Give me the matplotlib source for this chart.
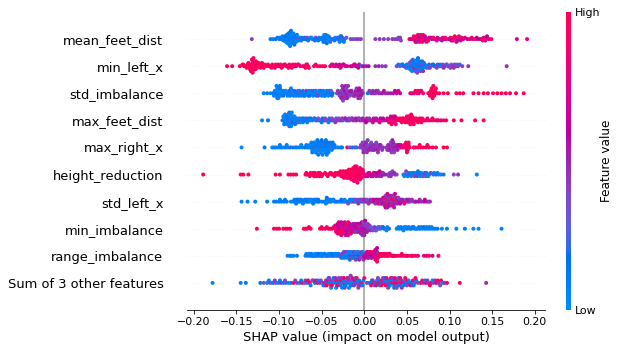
import numpy as np
import matplotlib
matplotlib.use("Agg")
import matplotlib.pyplot as plt
from matplotlib.colors import LinearSegmentedColormap
from matplotlib.cm import ScalarMappable

# ---------------- data: (SHAP value, normalised feature value) ----------------
features = ["mean_feet_dist", "min_left_x", "std_imbalance", "max_feet_dist", "max_right_x",
            "height_reduction", "std_left_x", "min_imbalance", "range_imbalance",
            "Sum of 3 other features"]

mean_feet_dist = [
    (-0.132,.40),
    (-0.110,.10),(-0.107,.05),(-0.104,.15),(-0.102,.10),(-0.100,.30),(-0.098,.05),(-0.097,.10),(-0.095,.20),
    (-0.094,.05),(-0.093,.10),(-0.092,.15),(-0.091,.05),(-0.090,.10),(-0.090,.25),(-0.089,.05),(-0.089,.10),
    (-0.088,.05),(-0.088,.15),(-0.088,.10),(-0.087,.05),(-0.087,.20),(-0.086,.10),(-0.086,.05),(-0.085,.30),
    (-0.085,.10),(-0.084,.05),(-0.083,.15),(-0.082,.10),(-0.081,.05),(-0.080,.20),(-0.079,.10),(-0.078,.35),
    (-0.076,.10),(-0.075,.05),
    (-0.073,.10),(-0.071,.30),(-0.069,.15),(-0.067,.35),(-0.065,.10),(-0.063,.20),(-0.061,.30),(-0.059,.10),
    (-0.057,.40),(-0.055,.15),(-0.053,.20),(-0.051,.10),
    (-0.049,.10),(-0.048,.05),(-0.047,.15),(-0.047,.10),(-0.046,.05),(-0.046,.20),(-0.045,.10),(-0.044,.30),
    (-0.043,.10),(-0.041,.05),
    (-0.038,.10),(-0.036,.20),(-0.034,.05),(-0.032,.30),(-0.030,.10),(-0.029,.15),(-0.028,.05),(-0.028,.25),
    (-0.027,.10),(-0.026,.35),(-0.025,.10),(-0.023,.20),(-0.021,.30),
    (-0.016,.40),(-0.013,.35),(-0.010,.40),(-0.007,.45),(-0.004,.40),
    (0.013,.40),(0.018,.45),(0.023,.40),(0.028,.40),(0.033,.45),
    (0.036,.40),(0.039,.45),(0.040,.40),(0.041,.35),(0.042,.45),(0.043,.40),
    (0.053,.95),(0.055,.70),(0.057,1.0),(0.059,.50),(0.060,.90),(0.061,.75),(0.062,.95),(0.063,.45),
    (0.064,.85),(0.065,1.0),(0.066,.60),(0.067,.90),(0.068,.70),(0.069,.50),(0.070,.95),(0.071,.80),
    (0.072,.60),(0.074,.90),(0.076,.70),
    (0.079,.50),(0.082,.85),(0.084,.95),(0.086,.60),(0.088,.75),(0.090,.50),(0.092,.90),(0.094,.65),(0.096,.80),
    (0.099,.55),(0.101,.90),(0.103,.70),(0.105,.95),(0.106,.60),(0.107,.80),(0.108,.50),(0.109,.90),
    (0.110,.70),(0.112,.55),(0.114,.85),(0.116,.65),(0.118,.75),
    (0.121,.60),(0.124,.80),(0.127,.55),(0.130,.90),(0.133,.70),(0.136,.60),(0.138,.85),(0.140,.65),
    (0.141,.75),(0.143,.95),(0.146,.80),(0.149,.90),
    (0.179,.75),(0.191,.80),
    (-0.099,.10),(-0.096,.05),(-0.093,.15),(-0.092,.05),(-0.091,.10),(-0.090,.05),(-0.089,.15),(-0.088,.10),
    (-0.088,.05),(-0.087,.10),(-0.087,.05),(-0.086,.15),(-0.085,.05),(-0.084,.10),(-0.083,.05),(-0.082,.20),
    (-0.081,.10),(-0.080,.05),(-0.079,.15),(-0.077,.05),(-0.074,.10),(-0.070,.20),(-0.066,.10),(-0.062,.05),
    (-0.058,.15),(-0.054,.10),(-0.050,.05),(-0.048,.15),(-0.047,.05),(-0.046,.10),(-0.045,.05),(-0.044,.15),
    (-0.043,.05),(-0.042,.10),(-0.040,.20),(-0.035,.10),(-0.031,.20),(-0.029,.05),(-0.027,.15),(-0.024,.10),
    (0.058,.90),(0.060,.70),(0.061,1.0),(0.062,.55),(0.063,.90),(0.064,.65),(0.065,.80),(0.066,.95),
    (0.067,.50),(0.068,.85),(0.069,1.0),(0.071,.60),(0.073,.85),(0.075,.95),(0.078,.65),(0.081,.90),
    (0.085,.70),(0.091,.55),(0.095,.90),(0.102,.65),(0.104,.85),(0.106,.95),(0.108,.70),(0.110,.55),
    (0.111,.90),(0.113,.75),(0.126,.85),(0.132,.60),(0.139,.95),(0.142,.70),(0.144,.60),
]

min_left_x = [
    (-0.161,.95),(-0.155,1.0),
    (-0.146,.95),(-0.143,1.0),(-0.141,.90),(-0.139,1.0),(-0.137,.95),(-0.136,.85),(-0.135,1.0),(-0.134,.95),
    (-0.133,.90),(-0.132,1.0),(-0.131,.95),(-0.131,.85),(-0.130,1.0),(-0.130,.90),(-0.129,.95),(-0.128,1.0),
    (-0.127,.80),(-0.126,.95),(-0.125,1.0),(-0.123,.90),(-0.121,.95),(-0.119,.85),(-0.117,1.0),(-0.115,.90),
    (-0.112,.95),(-0.110,.85),(-0.108,1.0),(-0.106,.90),(-0.104,.95),(-0.102,.80),(-0.100,1.0),(-0.098,.90),
    (-0.096,.75),(-0.094,.95),(-0.092,.85),(-0.090,1.0),(-0.088,.90),(-0.086,.80),(-0.084,.95),(-0.082,.85),
    (-0.080,.70),(-0.078,.95),(-0.075,.80),(-0.072,.90),(-0.070,.75),(-0.068,.95),(-0.066,.85),
    (-0.059,.95),(-0.055,.90),(-0.052,1.0),(-0.049,.85),(-0.046,.95),
    (-0.040,.75),(-0.038,.70),(-0.036,.80),(-0.034,.65),(-0.031,.75),(-0.029,.70),(-0.027,.80),(-0.025,.65),
    (-0.022,.75),(-0.020,.70),
    (-0.016,.75),(-0.014,.65),(-0.012,.80),(-0.010,.60),(-0.008,.70),(-0.006,.55),(-0.003,.05),(-0.001,.65),
    (0.002,.50),(0.005,.60),
    (0.013,.45),(0.017,.50),(0.021,.40),(0.025,.45),
    (0.038,.40),(0.040,.10),(0.042,.35),(0.044,.05),(0.046,.40),(0.048,.15),(0.050,.10),(0.052,.35),
    (0.053,.05),(0.054,.20),(0.055,.10),(0.056,.40),(0.057,.05),(0.058,.15),(0.059,.30),(0.060,.10),
    (0.061,.05),(0.061,.40),(0.062,.10),(0.062,.20),(0.063,.05),(0.063,.35),(0.064,.10),(0.065,.45),
    (0.066,.05),(0.067,.15),(0.068,.40),(0.069,.10),(0.070,.30),(0.072,.05),(0.074,.40),(0.076,.15),
    (0.078,.35),(0.080,.10),(0.082,.40),(0.084,.20),(0.086,.45),(0.088,.10),(0.090,.35),(0.092,.40),
    (0.094,.15),(0.096,.45),(0.098,.30),(0.100,.40),(0.102,.35),(0.104,.45),(0.106,.40),(0.108,.30),
    (0.110,.45),(0.112,.10),(0.115,.40),
    (0.122,.45),(0.167,.45),
    (-0.142,.95),(-0.138,1.0),(-0.136,.95),(-0.134,1.0),(-0.133,.85),(-0.132,.95),(-0.131,1.0),(-0.130,.95),
    (-0.129,.90),(-0.128,.95),(-0.127,1.0),(-0.126,.90),(-0.124,.95),(-0.122,1.0),(-0.120,.85),(-0.118,.95),
    (-0.113,1.0),(-0.109,.90),(-0.105,.95),(-0.101,.85),(-0.097,1.0),(-0.093,.80),(-0.089,.95),(-0.085,.90),
    (-0.081,1.0),(-0.077,.85),(-0.069,.95),(-0.067,.90),(-0.065,1.0),(-0.057,.85),(-0.037,.75),(-0.033,.70),
    (-0.028,.75),(-0.024,.65),(-0.011,.70),(-0.007,.60),
    (0.045,.10),(0.049,.40),(0.051,.05),(0.053,.30),(0.054,.10),(0.055,.40),(0.056,.05),(0.057,.20),
    (0.058,.10),(0.059,.45),(0.060,.05),(0.060,.35),(0.061,.10),(0.062,.05),(0.062,.40),(0.063,.15),
    (0.064,.05),(0.064,.35),(0.065,.10),(0.066,.40),(0.067,.05),(0.068,.20),(0.069,.45),(0.071,.10),
    (0.073,.35),(0.075,.05),(0.077,.40),(0.081,.15),(0.085,.40),(0.089,.10),(0.093,.45),(0.097,.35),
    (0.101,.40),(0.105,.45),(0.109,.35),
]

std_imbalance = [
    (-0.118,.05),(-0.114,.10),(-0.110,.05),(-0.107,.10),(-0.105,.05),(-0.104,.15),(-0.104,.05),(-0.103,.10),
    (-0.102,.05),(-0.102,.20),(-0.101,.10),(-0.100,.05),(-0.100,.10),(-0.099,.15),(-0.097,.05),(-0.096,.10),
    (-0.094,.05),(-0.093,.20),(-0.091,.10),(-0.089,.05),(-0.088,.15),(-0.087,.10),(-0.085,.05),(-0.084,.30),
    (-0.083,.10),(-0.081,.05),(-0.079,.15),(-0.078,.35),(-0.077,.10),(-0.075,.05),(-0.073,.40),(-0.072,.10),
    (-0.071,.35),(-0.069,.05),(-0.068,.45),(-0.067,.10),(-0.065,.05),(-0.063,.15),(-0.062,.10),(-0.061,.05),
    (-0.059,.20),(-0.058,.10),(-0.057,.05),(-0.055,.30),(-0.053,.10),(-0.052,.05),(-0.051,.15),(-0.049,.05),
    (-0.048,.10),(-0.047,.40),(-0.045,.05),(-0.044,.10),(-0.043,.20),(-0.041,.05),(-0.040,.10),(-0.039,.35),
    (-0.037,.15),
    (-0.032,.40),(-0.030,.45),(-0.028,.50),(-0.027,.40),(-0.026,.55),(-0.025,.45),(-0.024,.40),(-0.023,.60),
    (-0.022,.45),(-0.021,.50),(-0.020,.40),(-0.019,.55),(-0.018,.45),(-0.016,.60),(-0.014,.50),(-0.012,.40),
    (-0.010,.55),(-0.009,.45),(-0.008,.65),(-0.007,.50),(-0.006,.45),(-0.005,.55),(-0.004,.60),(-0.002,.50),
    (0.004,.10),(0.008,.45),(0.011,.50),(0.013,.45),(0.014,.55),(0.017,.50),(0.019,.45),(0.021,.55),(0.025,.50),
    (0.034,.55),(0.038,.60),(0.042,.65),
    (0.054,.70),(0.058,.80),(0.060,.95),(0.062,.75),(0.064,.90),(0.066,.85),(0.069,.95),
    (0.076,.95),(0.078,1.0),(0.079,.90),(0.080,.95),(0.081,1.0),(0.082,.85),(0.083,.95),(0.085,1.0),
    (0.093,.95),(0.108,1.0),(0.116,.90),(0.128,.95),(0.140,1.0),(0.151,.90),(0.161,1.0),(0.171,.95),(0.187,1.0),
    (-0.106,.05),(-0.103,.10),(-0.101,.05),(-0.099,.10),(-0.098,.05),(-0.095,.15),(-0.092,.05),(-0.090,.10),
    (-0.086,.05),(-0.082,.10),(-0.080,.05),(-0.076,.20),(-0.074,.05),(-0.070,.10),(-0.066,.05),(-0.064,.15),
    (-0.060,.05),(-0.056,.10),(-0.054,.40),(-0.050,.05),(-0.046,.10),(-0.042,.05),(-0.038,.15),
    (-0.031,.45),(-0.029,.40),(-0.027,.55),(-0.026,.45),(-0.025,.40),(-0.024,.50),(-0.023,.45),(-0.022,.55),
    (-0.021,.40),(-0.020,.50),(-0.019,.45),(-0.017,.40),(-0.015,.55),(-0.013,.45),(-0.011,.50),(-0.009,.40),
    (-0.007,.55),(-0.006,.60),(-0.005,.45),(-0.003,.50),
    (0.006,.45),(0.010,.50),(0.016,.45),(0.023,.55),(0.028,.50),(0.031,.55),(0.036,.60),(0.040,.70),
    (0.056,.85),(0.063,.95),(0.067,.80),(0.075,1.0),(0.077,.90),(0.079,1.0),(0.080,.85),(0.081,.95),
    (0.082,1.0),(0.084,.90),(0.088,.95),(0.098,1.0),(0.112,.95),(0.134,1.0),(0.145,.95),(0.156,1.0),
    (0.166,.90),(0.178,1.0),
]

max_feet_dist = [
    (-0.120,.05),(-0.113,.10),
    (-0.096,.05),(-0.095,.10),(-0.094,.05),(-0.093,.15),(-0.092,.10),(-0.091,.05),(-0.090,.20),(-0.089,.10),
    (-0.089,.05),(-0.088,.15),(-0.087,.05),(-0.087,.10),(-0.086,.30),(-0.085,.05),(-0.085,.10),(-0.084,.20),
    (-0.083,.05),(-0.082,.10),(-0.081,.35),(-0.080,.05),(-0.078,.10),(-0.077,.15),(-0.076,.05),(-0.074,.30),
    (-0.073,.10),(-0.072,.05),(-0.070,.20),(-0.069,.10),(-0.068,.40),(-0.066,.05),(-0.065,.15),(-0.064,.10),
    (-0.061,.05),
    (-0.059,.30),(-0.057,.10),(-0.055,.40),(-0.053,.05),(-0.051,.35),(-0.049,.15),(-0.047,.45),(-0.045,.10),
    (-0.043,.40),(-0.041,.20),(-0.039,.45),(-0.037,.10),(-0.035,.40),(-0.033,.35),
    (-0.031,.45),(-0.029,.40),(-0.027,.50),(-0.025,.35),(-0.023,.45),(-0.021,.10),(-0.019,.50),(-0.017,.40),
    (-0.015,.45),(-0.013,.55),(-0.011,.40),(-0.009,.50),(-0.007,.45),(-0.005,.60),(-0.003,.40),(-0.001,.55),
    (0.001,.70),(0.003,.50),(0.005,.75),(0.007,.45),(0.009,.80),(0.011,.55),(0.013,.70),(0.015,.50),
    (0.017,.85),(0.019,.60),(0.021,.75),(0.023,.50),
    (0.026,.80),(0.028,.70),(0.030,.85),(0.031,.60),(0.032,.75),(0.033,.90),(0.034,.65),(0.035,.80),
    (0.036,.70),(0.038,.85),
    (0.041,.95),(0.043,.90),(0.045,1.0),(0.047,.85),(0.049,.95),(0.050,1.0),(0.051,.90),(0.052,.95),
    (0.053,.80),(0.054,1.0),(0.055,.90),(0.056,.95),(0.057,1.0),(0.058,.85),(0.060,.95),(0.062,1.0),
    (0.064,.90),(0.066,.95),(0.068,.85),
    (0.072,.90),(0.075,1.0),(0.078,.80),(0.081,.95),(0.084,.75),(0.087,.90),(0.090,.70),(0.093,.95),(0.096,.85),
    (0.105,1.0),(0.114,.95),(0.130,1.0),(0.140,.95),
    (-0.095,.05),(-0.094,.10),(-0.093,.05),(-0.092,.05),(-0.091,.15),(-0.090,.05),(-0.089,.10),(-0.088,.05),
    (-0.088,.20),(-0.087,.05),(-0.086,.10),(-0.085,.05),(-0.084,.15),(-0.083,.10),(-0.082,.05),(-0.081,.10),
    (-0.079,.05),(-0.078,.25),(-0.075,.05),(-0.071,.10),(-0.067,.05),(-0.063,.15),(-0.058,.10),(-0.054,.35),
    (-0.050,.10),(-0.046,.40),(-0.042,.05),(-0.038,.40),(-0.034,.45),
    (-0.030,.40),(-0.026,.45),(-0.022,.50),(-0.018,.40),(-0.014,.45),(-0.010,.55),(-0.006,.40),(-0.002,.50),
    (0.002,.60),(0.006,.45),(0.010,.70),(0.014,.55),(0.018,.75),(0.022,.60),
    (0.027,.75),(0.029,.85),(0.031,.70),(0.032,.95),(0.033,.80),(0.034,.75),(0.035,.90),(0.036,.65),
    (0.037,.85),(0.039,.95),
    (0.042,1.0),(0.044,.90),(0.046,.95),(0.048,1.0),(0.050,.85),(0.051,.95),(0.052,1.0),(0.053,.90),
    (0.054,.95),(0.055,1.0),(0.056,.85),(0.058,.95),(0.059,1.0),(0.061,.90),(0.063,.95),(0.065,1.0),
    (0.067,.90),(0.070,.95),(0.074,.85),(0.080,1.0),(0.086,.90),
]

max_right_x = [
    (-0.144,.05),(-0.117,.10),
    (-0.108,.05),(-0.104,.10),(-0.101,.05),(-0.098,.15),(-0.096,.05),(-0.093,.10),(-0.090,.05),(-0.087,.20),
    (-0.084,.10),
    (-0.079,.05),(-0.076,.10),(-0.073,.05),(-0.070,.15),(-0.067,.10),(-0.065,.05),(-0.063,.10),(-0.062,.20),
    (-0.061,.05),(-0.060,.10),(-0.059,.05),(-0.058,.15),(-0.058,.10),(-0.057,.05),(-0.056,.30),(-0.055,.10),
    (-0.054,.05),(-0.054,.15),(-0.053,.10),(-0.052,.05),(-0.051,.20),(-0.050,.10),(-0.050,.05),(-0.049,.35),
    (-0.048,.10),(-0.047,.05),(-0.046,.15),(-0.046,.10),(-0.045,.05),(-0.044,.25),(-0.043,.10),(-0.042,.05),
    (-0.042,.15),(-0.041,.10),(-0.040,.05),(-0.039,.30),(-0.038,.10),(-0.036,.05),(-0.034,.20),
    (-0.028,.15),(-0.026,.10),(-0.020,.95),(-0.017,.30),(-0.014,.15),(-0.011,.40),(-0.009,.10),
    (-0.005,.45),(-0.003,.40),(-0.002,.50),(-0.001,.45),(0.000,.40),(0.001,.55),(0.002,.45),(0.003,.40),
    (0.004,.50),(0.005,.45),(0.006,.35),(0.007,.50),(0.008,.45),(0.009,.40),(0.010,.55),(0.011,.45),
    (0.012,.40),(0.013,.50),(0.014,.45),(0.015,.40),(0.016,.55),(0.017,.45),(0.018,.50),(0.020,.40),(0.022,.45),
    (0.026,.45),(0.028,.50),(0.029,.40),(0.030,.55),(0.031,.45),(0.032,.50),(0.033,.40),(0.034,.55),
    (0.034,.45),(0.035,.50),(0.036,.60),(0.037,.45),(0.038,.55),(0.040,.65),(0.042,.50),(0.044,.70),
    (0.046,.95),(0.048,.85),(0.049,1.0),(0.050,.90),(0.051,.95),(0.052,.80),(0.053,1.0),
    (0.060,.95),(0.063,.90),(0.066,1.0),(0.069,.85),(0.072,.95),(0.076,1.0),(0.080,.90),(0.084,.95),
    (0.093,1.0),(0.097,.95),
    (-0.106,.05),(-0.099,.10),(-0.091,.05),(-0.081,.10),(-0.074,.05),(-0.068,.10),(-0.064,.05),(-0.062,.10),
    (-0.061,.15),(-0.060,.05),(-0.059,.10),(-0.058,.05),(-0.057,.10),(-0.056,.05),(-0.055,.15),(-0.054,.10),
    (-0.053,.05),(-0.052,.10),(-0.051,.05),(-0.050,.15),(-0.049,.05),(-0.048,.10),(-0.047,.20),(-0.046,.05),
    (-0.045,.10),(-0.044,.05),(-0.043,.15),(-0.042,.10),(-0.041,.05),(-0.040,.10),(-0.038,.05),(-0.037,.15),
    (-0.035,.10),(-0.031,.05),
    (-0.004,.45),(-0.002,.40),(-0.001,.50),(0.000,.45),(0.001,.40),(0.002,.50),(0.003,.45),(0.004,.40),
    (0.006,.50),(0.008,.40),(0.010,.45),(0.012,.50),(0.014,.40),(0.016,.45),(0.019,.50),(0.021,.45),
    (0.027,.45),(0.029,.55),(0.031,.40),(0.032,.45),(0.033,.55),(0.034,.50),(0.035,.40),(0.036,.45),
    (0.039,.55),(0.041,.60),(0.043,.70),
    (0.047,.90),(0.049,.95),(0.050,1.0),(0.051,.85),(0.052,.95),(0.058,.90),(0.065,1.0),(0.074,.95),
]

height_reduction = [
    (-0.189,1.0),
    (-0.145,.95),(-0.142,1.0),(-0.136,.95),
    (-0.104,1.0),(-0.099,.95),
    (-0.089,1.0),(-0.086,.95),(-0.083,.90),(-0.080,1.0),
    (-0.069,.95),(-0.067,1.0),(-0.065,.90),(-0.063,.95),(-0.061,1.0),(-0.060,.85),(-0.059,.95),(-0.057,1.0),
    (-0.055,.90),(-0.054,.95),(-0.053,1.0),(-0.051,.85),(-0.049,.95),
    (-0.044,1.0),(-0.042,.90),(-0.040,.95),(-0.038,.80),(-0.036,1.0),(-0.034,.90),(-0.032,.75),(-0.030,.95),
    (-0.029,1.0),(-0.027,.90),(-0.025,.95),(-0.024,1.0),(-0.023,.85),(-0.022,.95),(-0.021,1.0),(-0.020,.90),
    (-0.019,.75),(-0.018,.95),(-0.017,1.0),(-0.016,.90),(-0.016,.80),(-0.015,.95),(-0.014,1.0),(-0.013,.90),
    (-0.012,.95),(-0.012,1.0),(-0.011,.85),(-0.011,.95),(-0.010,1.0),(-0.010,.90),(-0.009,.75),(-0.009,.95),
    (-0.008,1.0),(-0.008,.85),(-0.007,.95),(-0.006,.90),(-0.005,1.0),(-0.004,.80),(-0.004,.95),(-0.003,.70),
    (-0.002,.90),(-0.001,.95),
    (0.003,.70),(0.005,.60),(0.007,.75),(0.009,.55),(0.011,.65),(0.012,.50),(0.013,.70),(0.015,.55),
    (0.016,.60),(0.017,.45),(0.019,.65),(0.021,.50),(0.023,.55),
    (0.028,.45),(0.030,.40),(0.032,.50),(0.034,.35),(0.036,.45),(0.038,.40),
    (0.046,.10),(0.048,.40),(0.050,.05),(0.052,.35),(0.053,.10),(0.054,.45),(0.056,.05),(0.057,.30),
    (0.058,.10),(0.060,.40),(0.061,.05),(0.062,.15),(0.064,.40),(0.065,.10),(0.066,.05),(0.068,.35),
    (0.070,.10),(0.071,.45),(0.072,.05),(0.074,.30),(0.076,.10),
    (0.081,.05),(0.084,.10),(0.087,.35),(0.090,.05),(0.093,.10),
    (0.105,.40),(0.110,.45),(0.132,.05),
    (-0.068,.95),(-0.064,1.0),(-0.058,.90),(-0.056,.95),(-0.052,1.0),(-0.050,.90),(-0.046,.95),(-0.043,1.0),
    (-0.039,.90),(-0.035,.95),(-0.031,1.0),
    (-0.028,.95),(-0.026,1.0),(-0.025,.90),(-0.024,.95),(-0.022,.85),(-0.021,.95),(-0.020,1.0),(-0.019,.90),
    (-0.018,1.0),(-0.017,.85),(-0.016,.95),(-0.015,1.0),(-0.014,.90),(-0.013,.95),(-0.012,.85),(-0.011,1.0),
    (-0.010,.95),(-0.010,.80),(-0.009,1.0),(-0.009,.90),(-0.008,.95),(-0.007,1.0),(-0.007,.85),(-0.006,.95),
    (-0.005,.90),(-0.005,.75),(-0.003,.95),(-0.002,1.0),(-0.001,.85),
    (0.001,.75),(0.004,.65),(0.006,.70),(0.008,.60),(0.010,.75),(0.014,.55),(0.018,.60),(0.020,.50),
    (0.022,.45),(0.025,.50),(0.029,.40),(0.031,.45),(0.033,.40),(0.035,.50),
    (0.047,.05),(0.049,.35),(0.051,.10),(0.055,.05),(0.059,.40),(0.063,.10),(0.067,.05),(0.069,.35),
    (0.073,.10),(0.075,.05),(0.078,.40),(0.082,.10),(0.086,.05),
]

std_left_x = [
    (-0.144,.05),(-0.137,.10),(-0.128,.05),(-0.114,.10),
    (-0.106,.05),(-0.103,.10),(-0.100,.05),(-0.097,.15),(-0.094,.05),(-0.091,.10),
    (-0.083,.05),(-0.081,.10),(-0.079,.05),(-0.077,.15),(-0.075,.05),(-0.073,.10),(-0.071,.05),(-0.070,.20),
    (-0.069,.05),(-0.067,.10),(-0.066,.05),(-0.065,.15),(-0.063,.05),(-0.062,.10),(-0.061,.05),(-0.059,.20),
    (-0.058,.05),(-0.057,.10),(-0.055,.05),(-0.053,.15),
    (-0.045,.05),(-0.044,.10),(-0.043,.05),(-0.041,.15),(-0.039,.05),(-0.037,.10),(-0.035,.05),(-0.033,.20),
    (-0.028,.05),(-0.026,.10),(-0.024,.30),(-0.022,.05),(-0.020,.15),(-0.018,.40),(-0.017,.10),(-0.016,.05),
    (-0.014,.35),(-0.013,.10),(-0.012,.45),(-0.010,.05),(-0.009,.40),(-0.008,.15),(-0.006,.45),(-0.005,.10),
    (-0.004,.40),(-0.002,.50),(0.000,.35),(0.002,.45),
    (0.004,.50),(0.006,.40),(0.008,.55),(0.010,.45),(0.012,.60),(0.014,.50),(0.015,.40),(0.016,.65),
    (0.017,.45),(0.018,.55),(0.019,.90),(0.020,.50),(0.021,.45),(0.022,.75),(0.023,.55),(0.024,.40),
    (0.025,.95),(0.026,.50),(0.026,.45),(0.027,.85),(0.027,.55),(0.028,.40),(0.028,.95),(0.029,.50),
    (0.030,.45),(0.031,.70),(0.031,.55),(0.032,.40),(0.033,1.0),(0.033,.50),(0.034,.45),(0.035,.80),
    (0.035,.55),(0.036,.40),(0.037,.90),(0.038,.50),(0.039,.45),(0.040,.65),(0.041,.55),(0.042,.40),
    (0.043,.85),(0.044,.50),(0.046,.45),(0.048,.60),(0.050,.45),(0.052,.55),(0.054,.40),
    (0.058,.50),(0.061,.45),(0.064,.60),(0.067,.45),(0.070,.55),(0.073,.65),(0.077,.50),
    (-0.099,.05),(-0.093,.10),(-0.086,.05),(-0.082,.10),(-0.080,.05),(-0.078,.15),(-0.076,.05),(-0.074,.10),
    (-0.072,.05),(-0.068,.10),(-0.064,.05),(-0.060,.10),(-0.056,.05),(-0.054,.15),(-0.050,.05),(-0.047,.10),
    (-0.045,.05),(-0.044,.15),(-0.042,.05),(-0.040,.10),(-0.036,.05),(-0.031,.10),
    (-0.027,.15),(-0.023,.05),(-0.019,.35),(-0.015,.10),(-0.011,.40),(-0.007,.45),(-0.003,.40),(-0.001,.45),
    (0.001,.50),(0.003,.40),
    (0.005,.45),(0.007,.55),(0.009,.40),(0.011,.60),(0.013,.45),(0.016,.50),(0.018,.95),(0.020,.40),
    (0.021,.55),(0.022,.45),(0.023,.85),(0.024,.50),(0.025,.45),(0.025,.60),(0.026,.95),(0.026,.40),
    (0.027,.50),(0.027,.75),(0.028,.45),(0.029,.90),(0.029,.55),(0.030,.40),(0.030,.65),(0.031,.50),
    (0.032,.95),(0.032,.45),(0.033,.55),(0.034,.80),(0.034,.40),(0.035,.50),(0.036,.70),(0.037,.45),
    (0.038,.90),(0.039,.55),(0.040,.40),(0.042,.60),(0.045,.50),(0.047,.85),(0.049,.45),(0.051,.55),
    (0.053,.50),
    (0.056,.45),(0.060,.55),(0.065,.50),(0.071,.60),(0.075,.45),
]

min_imbalance = [
    (-0.126,1.0),
    (-0.106,.95),(-0.100,1.0),(-0.095,.90),(-0.090,1.0),(-0.087,.95),
    (-0.071,1.0),(-0.067,.95),(-0.063,.90),
    (-0.052,1.0),(-0.049,.95),(-0.046,.85),(-0.042,1.0),(-0.040,.90),
    (-0.034,.95),(-0.033,.70),(-0.033,.90),(-0.032,.60),(-0.031,.95),(-0.030,.75),(-0.030,.50),(-0.029,1.0),
    (-0.029,.65),(-0.028,.85),(-0.028,.55),(-0.027,.95),(-0.026,.70),(-0.026,.45),(-0.025,.90),(-0.025,.60),
    (-0.024,1.0),(-0.024,.75),(-0.023,.55),(-0.022,.85),(-0.022,.65),(-0.021,.95),(-0.021,.50),(-0.020,.70),
    (-0.020,.90),(-0.019,.60),(-0.018,.80),(-0.017,.55),(-0.017,.95),(-0.016,.65),(-0.015,.75),
    (-0.014,.60),(-0.013,.85),(-0.012,.50),(-0.010,.70),(-0.009,.55),(-0.008,.65),(-0.007,.45),(-0.006,.75),
    (-0.006,.50),(-0.005,.60),(-0.004,.45),(-0.004,.70),(-0.003,.55),(-0.003,.40),(-0.002,.65),(-0.002,.50),
    (-0.001,.45),(-0.001,.60),(0.000,.55),(0.000,.40),(0.001,.50),(0.001,.45),(0.002,.60),(0.003,.40),
    (0.004,.50),(0.005,.45),(0.006,.35),(0.007,.50),
    (0.009,.40),(0.011,.30),(0.012,.45),(0.013,.20),(0.015,.40),(0.016,.10),(0.017,.35),(0.019,.05),
    (0.021,.40),(0.023,.10),(0.025,.30),(0.027,.05),(0.029,.20),
    (0.038,.05),(0.041,.10),(0.044,.05),(0.045,.15),(0.047,.05),(0.050,.10),(0.053,.05),(0.055,.20),
    (0.056,.05),(0.059,.10),(0.062,.05),(0.065,.15),(0.068,.05),(0.071,.10),(0.074,.05),(0.077,.10),
    (0.080,.05),(0.083,.10),
    (0.091,.05),(0.097,.10),(0.108,.05),(0.118,.10),(0.128,.05),(0.134,.05),(0.161,.05),
    (-0.103,.95),(-0.092,1.0),(-0.069,.95),(-0.065,1.0),(-0.050,.90),(-0.044,.95),(-0.038,1.0),(-0.036,.90),
    (-0.034,.75),(-0.033,.95),(-0.032,.85),(-0.031,.60),(-0.031,.80),(-0.030,.95),(-0.029,.70),(-0.028,1.0),
    (-0.027,.60),(-0.027,.80),(-0.026,.95),(-0.025,.75),(-0.024,.55),(-0.023,.90),(-0.023,.70),(-0.022,.50),
    (-0.021,.80),(-0.020,.60),(-0.019,.95),(-0.019,.75),(-0.018,.55),(-0.017,.70),(-0.016,.90),(-0.015,.55),
    (-0.014,.70),(-0.013,.55),(-0.012,.75),(-0.011,.60),(-0.011,.45),(-0.010,.55),(-0.009,.70),(-0.008,.50),
    (-0.007,.60),(-0.006,.45),(-0.005,.55),(-0.005,.70),(-0.004,.50),(-0.003,.60),(-0.002,.45),(-0.001,.55),
    (-0.001,.40),(0.000,.50),(0.001,.60),(0.002,.45),(0.003,.55),(0.004,.40),(0.006,.45),
    (0.008,.35),(0.010,.40),(0.014,.30),(0.018,.35),(0.022,.15),(0.026,.05),
    (0.040,.05),(0.043,.10),(0.046,.05),(0.049,.10),(0.052,.05),(0.058,.10),(0.061,.05),(0.064,.10),
    (0.067,.05),(0.070,.15),(0.073,.05),(0.076,.10),(0.079,.05),(0.086,.10),
]

range_imbalance = [
    (-0.090,.05),(-0.087,.10),(-0.083,.05),(-0.079,.10),
    (-0.069,.05),(-0.066,.10),(-0.065,.05),(-0.063,.15),(-0.061,.05),(-0.060,.10),(-0.059,.05),(-0.057,.20),
    (-0.056,.05),(-0.055,.10),(-0.053,.05),(-0.052,.15),(-0.051,.05),(-0.049,.10),(-0.048,.05),(-0.047,.25),
    (-0.045,.05),(-0.044,.10),(-0.043,.05),(-0.041,.30),(-0.040,.05),(-0.039,.10),(-0.037,.05),(-0.036,.20),
    (-0.035,.10),(-0.033,.05),
    (-0.031,.10),(-0.029,.35),(-0.027,.05),(-0.026,.40),(-0.025,.10),(-0.024,.45),(-0.023,.05),(-0.022,.35),
    (-0.021,.10),(-0.020,.40),(-0.019,.05),(-0.018,.45),(-0.018,.10),(-0.017,.35),(-0.016,.50),(-0.015,.10),
    (-0.014,.40),(-0.014,.05),(-0.013,.45),(-0.012,.30),(-0.011,.50),(-0.010,.10),(-0.010,.40),(-0.009,.45),
    (-0.008,.05),(-0.007,.50),(-0.006,.40),(-0.006,.35),(-0.005,.55),(-0.004,.45),(-0.003,.10),(-0.002,.50),
    (-0.002,.40),(-0.001,.55),
    (0.000,.60),(0.001,.50),(0.002,.70),(0.003,.55),(0.004,.65),(0.004,.45),(0.005,.75),(0.006,.55),
    (0.007,.60),(0.008,.80),(0.008,.50),(0.009,.65),(0.010,.70),(0.011,.55),(0.012,.85),(0.012,.60),
    (0.013,.75),(0.014,.95),(0.014,.55),(0.015,.70),(0.015,.10),(0.016,.80),
    (0.017,.90),(0.019,.70),(0.020,.95),(0.021,.80),(0.023,1.0),(0.024,.75),(0.025,.90),(0.027,.85),
    (0.028,1.0),(0.029,.70),(0.031,.95),(0.033,.80),(0.035,.90),(0.037,1.0),
    (0.042,.95),(0.045,.85),(0.048,1.0),(0.051,.80),(0.054,.95),(0.057,.75),(0.060,.90),
    (0.070,.80),(0.073,.75),(0.076,.85),(0.080,.70),(0.087,.95),
    (-0.085,.05),(-0.068,.10),(-0.064,.05),(-0.062,.10),(-0.058,.05),(-0.054,.15),(-0.050,.05),(-0.046,.10),
    (-0.042,.05),(-0.038,.15),(-0.034,.05),
    (-0.032,.10),(-0.030,.05),(-0.028,.40),(-0.027,.10),(-0.025,.05),(-0.024,.35),(-0.023,.10),(-0.022,.45),
    (-0.021,.05),(-0.020,.10),(-0.019,.40),(-0.018,.05),(-0.017,.10),(-0.016,.45),(-0.015,.05),(-0.014,.35),
    (-0.013,.10),(-0.012,.50),(-0.011,.05),(-0.010,.45),(-0.009,.10),(-0.008,.40),(-0.007,.05),(-0.006,.50),
    (-0.005,.10),(-0.004,.40),(-0.003,.55),(-0.002,.05),(-0.001,.45),
    (0.001,.65),(0.002,.55),(0.003,.75),(0.005,.50),(0.006,.70),(0.007,.85),(0.009,.55),(0.010,.90),
    (0.011,.65),(0.012,.75),(0.013,.95),(0.013,.60),(0.014,.80),(0.014,.70),(0.015,.95),(0.015,.60),
    (0.016,.75),
    (0.018,.95),(0.022,.85),(0.026,1.0),(0.030,.90),(0.034,.85),(0.039,.95),(0.044,.90),(0.050,.85),
    (0.056,.95),(0.063,.80),
]

other_features = [
    (-0.178,.05),(-0.145,.05),(-0.139,.10),
    (-0.122,.10),(-0.118,.35),(-0.114,.05),
    (-0.110,.40),(-0.107,.10),(-0.104,.35),(-0.101,.05),(-0.098,.45),(-0.095,.10),(-0.092,.30),(-0.089,.05),
    (-0.079,.40),(-0.076,.10),(-0.073,.95),(-0.070,.35),(-0.067,.05),(-0.064,.80),(-0.061,.40),(-0.058,.10),
    (-0.055,.95),(-0.052,.45),(-0.049,.05),
    (-0.047,.90),(-0.045,.40),(-0.044,.10),(-0.043,.85),(-0.041,.05),(-0.040,.45),(-0.039,.95),(-0.037,.10),
    (-0.036,.40),(-0.035,.05),(-0.033,.90),(-0.032,.35),(-0.031,.10),(-0.029,.45),(-0.028,.05),(-0.027,.95),
    (-0.025,.40),(-0.024,.10),(-0.023,.80),(-0.021,.05),(-0.020,.45),(-0.019,.10),(-0.017,.40),(-0.016,.95),
    (-0.015,.05),(-0.013,.35),(-0.012,.10),(-0.011,.85),(-0.009,.40),(-0.008,.05),(-0.007,.45),(-0.005,.10),
    (-0.003,.90),(-0.001,.05),
    (0.007,.40),(0.009,.10),(0.011,.95),(0.013,.45),(0.015,.05),(0.017,.85),(0.019,.40),(0.020,.10),
    (0.021,.90),(0.023,.45),(0.024,.05),(0.025,.95),(0.027,.40),(0.028,.10),(0.029,.85),(0.031,.45),
    (0.032,.05),(0.033,1.0),(0.034,.40),(0.035,.10),(0.036,.90),(0.037,.45),(0.038,.05),(0.039,.95),
    (0.040,.40),(0.041,.10),(0.043,.85),(0.044,.45),(0.045,.05),(0.047,.90),(0.048,.40),(0.049,.10),
    (0.051,.95),(0.053,.45),(0.055,.05),(0.057,.85),(0.059,.40),(0.061,.10),
    (0.066,.95),(0.069,.40),(0.072,.85),(0.075,.45),(0.078,.95),(0.081,.40),(0.084,.90),(0.087,.45),
    (0.090,.95),(0.094,.80),
    (0.112,.95),(0.143,.45),
    (-0.112,.10),(-0.105,.45),(-0.099,.10),(-0.093,.40),(-0.086,.05),(-0.083,.95),(-0.081,.40),(-0.074,.10),
    (-0.069,.45),(-0.066,.95),(-0.063,.05),(-0.060,.40),(-0.057,.85),(-0.054,.10),(-0.051,.40),
    (-0.048,.05),(-0.046,.45),(-0.044,.95),(-0.042,.10),(-0.041,.40),(-0.039,.05),(-0.038,.85),(-0.036,.10),
    (-0.034,.45),(-0.033,.05),(-0.031,.95),(-0.030,.40),(-0.028,.10),(-0.027,.45),(-0.026,.05),(-0.024,.90),
    (-0.023,.40),(-0.022,.10),(-0.020,.95),(-0.019,.45),(-0.018,.05),(-0.016,.40),(-0.015,.10),(-0.014,.85),
    (-0.012,.45),(-0.010,.05),(-0.009,.95),(-0.007,.40),(-0.006,.10),(-0.004,.45),(-0.002,.05),(0.000,.90),
    (0.003,.40),(0.006,.10),(0.008,.95),(0.010,.45),(0.012,.05),(0.014,.90),(0.016,.40),(0.018,.10),
    (0.020,.95),(0.022,.45),(0.024,.10),(0.026,.85),(0.028,.40),(0.030,.05),(0.031,.95),(0.033,.45),
    (0.035,.10),(0.036,.90),(0.038,.40),(0.040,.05),(0.042,.95),(0.044,.45),(0.046,.10),(0.048,.90),
    (0.050,.40),(0.052,.05),(0.054,.95),(0.056,.45),(0.058,.10),(0.060,.85),(0.063,.40),
    (0.068,.95),(0.071,.10),(0.074,.45),(0.077,.90),(0.080,.05),(0.083,.45),(0.086,.95),(0.089,.40),
    (0.092,.10),(0.097,.90),
]

rows = [mean_feet_dist, min_left_x, std_imbalance, max_feet_dist, max_right_x,
        height_reduction, std_left_x, min_imbalance, range_imbalance, other_features]

x_ticks = [-0.20, -0.15, -0.10, -0.05, 0.00, 0.05, 0.10, 0.15, 0.20]


# ---------------- SHAP red_blue colormap (LCH interpolation) ----------------
def lch2rgb(l, c, h):
    a = c * np.cos(h)
    b = c * np.sin(h)
    fy = (l + 16.0) / 116.0
    fx = fy + a / 500.0
    fz = fy - b / 200.0
    def finv(t):
        return np.where(t > 0.2068966, t ** 3, (t - 16.0 / 116.0) / 7.787)
    xyz = np.array([0.95047 * finv(fx), finv(fy), 1.08883 * finv(fz)])
    M = np.array([[3.24048134, -1.53715152, -0.49853633],
                  [-0.96925495, 1.87599, 0.04155593],
                  [0.05564664, -0.20404134, 1.05731107]])
    rgb = M @ xyz
    rgb = np.where(rgb > 0.0031308,
                   1.055 * np.power(np.clip(rgb, 1e-12, None), 1 / 2.4) - 0.055,
                   12.92 * rgb)
    return np.clip(rgb, 0, 1)


blue_lch = [54., 70., 4.6588]
red_lch = [54., 90., 0.35470565 + 2 * np.pi]
l_mid = 40.
nsteps = 100
l_vals = list(np.linspace(blue_lch[0], l_mid, nsteps // 2)) + list(np.linspace(l_mid, red_lch[0], nsteps // 2))
c_vals = np.linspace(blue_lch[1], red_lch[1], nsteps)
h_vals = np.linspace(blue_lch[2], red_lch[2], nsteps)
cols = [tuple(lch2rgb(l, c, h)) for l, c, h in zip(l_vals, c_vals, h_vals)]
red_blue = LinearSegmentedColormap.from_list("red_blue", list(zip(np.linspace(0, 1, nsteps), cols)))


# ---------------- beeswarm layout (as in shap) ----------------
def swarm_offsets(vals, row_height=0.4, nbins=100):
    vals = np.asarray(vals, dtype=float)
    n = len(vals)
    quant = np.round(nbins * (vals - vals.min()) / (vals.max() - vals.min() + 1e-8))
    inds = np.argsort(quant, kind="stable")
    layer = 0
    last_bin = -1
    ys = np.zeros(n)
    for ind in inds:
        if quant[ind] != last_bin:
            layer = 0
        ys[ind] = np.ceil(layer / 2) * ((layer % 2) * 2 - 1)
        layer += 1
        last_bin = quant[ind]
    ys *= 0.9 * (row_height / np.max(ys + 1))
    return ys


W, H = 619, 351
fig = plt.figure(figsize=(W / 72, H / 72), dpi=72)
ax = fig.add_axes([187 / W, 1 - 310 / H, 358 / W, 298 / H])

nfeat = len(features)
for i, data in enumerate(rows):
    pos = nfeat - 1 - i
    sv = np.array([d[0] for d in data])
    fv = np.array([d[1] for d in data])
    ax.axhline(y=pos, color="#cccccc", lw=0.5, dashes=(1, 5), zorder=-1)
    ys = swarm_offsets(sv)
    ax.scatter(sv, pos + ys, c=fv, cmap=red_blue, vmin=0, vmax=1, s=16,
               linewidth=0, alpha=1, zorder=3)

ax.axvline(x=0, color="#999999", zorder=-1)
ax.set_xlim(-0.208, 0.212)
ax.set_ylim(-1, nfeat)
ax.set_yticks(range(nfeat))
ax.set_yticklabels(features[::-1], fontsize=13)
ax.yaxis.set_ticks_position("none")
ax.tick_params("y", length=20, width=0.5, which="major")
ax.set_xticks(x_ticks)
ax.set_xticklabels([f"{t:.2f}".replace("-", "\u2212") for t in x_ticks])
ax.tick_params("x", labelsize=11)
ax.xaxis.set_ticks_position("bottom")
for s in ["right", "top", "left"]:
    ax.spines[s].set_visible(False)
ax.set_xlabel("SHAP value (impact on model output)", fontsize=13)

# colorbar
cax = fig.add_axes([566 / W, 1 - 310 / H, 5 / W, 298 / H])
sm = ScalarMappable(cmap=red_blue)
sm.set_array([0, 1])
cb = fig.colorbar(sm, cax=cax, ticks=[0, 1])
cb.set_ticklabels(["Low", "High"])
cb.ax.tick_params(labelsize=11, length=0)
cb.set_label("Feature value", size=12, labelpad=0)
cb.outline.set_visible(False)

fig.savefig("out.png", dpi=72)
